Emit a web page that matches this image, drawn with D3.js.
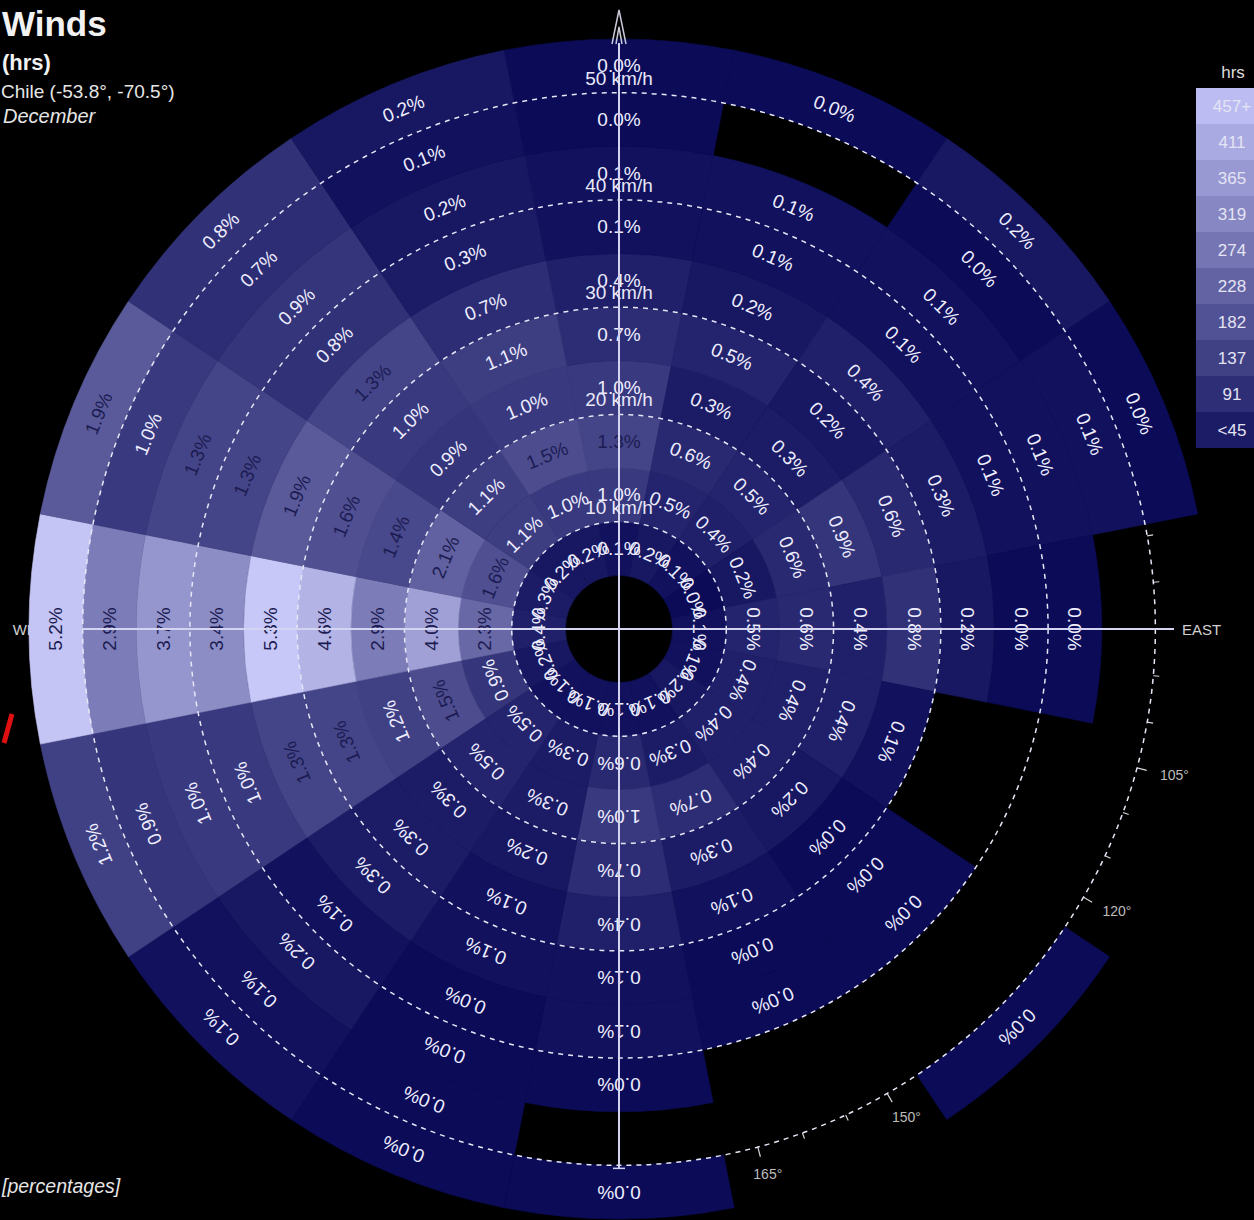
<!DOCTYPE html>
<html>
<head>
<meta charset="utf-8">
<script src="https://cdn.jsdelivr.net/npm/d3@7"></script>
<style>
  body { margin: 0; background: #000; overflow: hidden; }
  svg { display: block; }
</style>
</head>
<body>
<svg id="chart" width="1254" height="1220"></svg>
<script>
// Wind directions (16 sectors, clockwise from north)
const directions = ["N","NNE","NE","ENE","E","ESE","SE","SSE","S","SSW","SW","WSW","W","WNW","NW","NNW"];
// Lower bound of each 5 km/h speed bin (km/h)
const speedBins = [5, 10, 15, 20, 25, 30, 35, 40, 45, 50];
// Share of hours (%) per speed bin for each direction; null = no hours recorded
const pctN   = [0.1, 1.0, 1.3, 1.0, 0.7, 0.4, 0.1, 0.1, 0.0, 0.0];
const pctNNE = [0.2, 0.5, 0.6, 0.3, 0.5, 0.2, 0.1, 0.1, null, 0.0];
const pctNE  = [0.1, 0.4, 0.5, 0.3, 0.2, 0.4, 0.1, 0.1, 0.0, 0.2];
const pctENE = [0.0, 0.2, 0.6, 0.9, 0.6, 0.3, 0.1, 0.1, 0.1, 0.0];
const pctE   = [0.1, 0.5, 0.6, 0.4, 0.8, 0.2, 0.0, 0.0, null, null];
const pctESE = [0.1, 0.4, 0.4, 0.4, 0.1, null, null, null, null, null];
const pctSE  = [0.2, 0.4, 0.4, 0.2, 0.0, 0.0, 0.0, null, null, 0.0];
const pctSSE = [0.1, 0.3, 0.7, 0.3, 0.1, 0.0, 0.0, null, null, null];
const pctS   = [0.1, 0.6, 1.0, 0.7, 0.4, 0.1, 0.1, 0.0, null, 0.0];
const pctSSW = [0.1, 0.3, 0.3, 0.2, 0.1, 0.1, 0.0, 0.0, 0.0, 0.0];
const pctSW  = [0.1, 0.5, 0.5, 0.3, 0.3, 0.3, 0.1, 0.2, 0.1, 0.1];
const pctWSW = [0.2, 0.9, 1.5, 1.2, 1.3, 1.3, 1.0, 1.0, 0.9, 1.2];
const pctW   = [0.4, 2.3, 4.0, 2.9, 4.6, 5.3, 3.4, 3.7, 2.9, 5.2];
const pctWNW = [0.3, 1.6, 2.1, 1.4, 1.6, 1.9, 1.3, 1.3, 1.0, 1.9];
const pctNW  = [0.2, 1.1, 1.1, 0.9, 1.0, 1.3, 0.8, 0.9, 0.7, 0.8];
const pctNNW = [0.2, 1.0, 1.5, 1.0, 1.1, 0.7, 0.3, 0.2, 0.1, 0.2];
const series = [pctN, pctNNE, pctNE, pctENE, pctE, pctESE, pctSE, pctSSE,
                pctS, pctSSW, pctSW, pctWSW, pctW, pctWNW, pctNW, pctNNW];

// Speed rings marked with dashed circles
const speedRings = [10, 20, 30, 40, 50];
// Legend classes (hours), top to bottom
const legendLabels = ["457+", "411", "365", "319", "274", "228", "182", "137", "91", "<45"];
// Compass degree ticks
const degreeTicks = d3.range(0, 360, 5);

const W = 1254, H = 1220;
const cx = 619, cy = 629;
const svg = d3.select("#chart");
svg.append("rect").attr("width", W).attr("height", H).attr("fill", "#000");

const font = "'Liberation Sans', Arial, sans-serif";
const rScale = d3.scaleLinear().domain([0, 55]).range([0, 590]);
const shade = d3.scalePow().exponent(0.85).domain([0, 5.3]).range([0, 1]).clamp(true);
const ramp = d3.interpolateRgb("#0b0b58", "#c8c8f8");
const color = v => ramp(shade(v));
const toRad = d => d * Math.PI / 180;
const step = 360 / directions.length;

const g = svg.append("g").attr("transform", `translate(${cx},${cy})`);

// ---- compass ticks and degree labels (underneath the cells) ----
const rim = rScale(50);
g.append("g").selectAll("line").data(degreeTicks).join("line")
  .attr("x1", d => rim * Math.sin(toRad(d)))
  .attr("y1", d => -rim * Math.cos(toRad(d)))
  .attr("x2", d => (rim + (d % 15 === 0 ? 10 : 6)) * Math.sin(toRad(d)))
  .attr("y2", d => -(rim + (d % 15 === 0 ? 10 : 6)) * Math.cos(toRad(d)))
  .attr("stroke", "#d8d8d8").attr("stroke-width", 1.2);

const degLabels = degreeTicks.filter(d => d % 15 === 0 && d % 90 !== 0);
g.append("g").selectAll("text").data(degLabels).join("text")
  .attr("x", d => 557 * Math.sin(toRad(d)) + 18 * Math.sin(toRad(d)))
  .attr("y", d => -557 * Math.cos(toRad(d)) - 7 * Math.cos(toRad(d)))
  .attr("text-anchor", "middle").attr("dominant-baseline", "central")
  .attr("font-family", font).attr("font-size", 14).attr("fill", "#bdbdbd")
  .text(d => d + "\u00b0");

g.append("text").attr("x", 563).attr("y", 0)
  .attr("dominant-baseline", "central").attr("font-family", font)
  .attr("font-size", 15).attr("fill", "#d0d0d0").text("EAST");
g.append("text").attr("x", -563).attr("y", 0).attr("text-anchor", "end")
  .attr("dominant-baseline", "central").attr("font-family", font)
  .attr("font-size", 15).attr("fill", "#d0d0d0").text("WEST");

// ---- cells ----
const cells = [];
series.forEach((vals, i) => {
  vals.forEach((v, j) => {
    if (v === null) return;
    cells.push({ dir: i, bin: j, value: v });
  });
});

const arc = d3.arc()
  .innerRadius(d => rScale(speedBins[d.bin]))
  .outerRadius(d => rScale(speedBins[d.bin] + 5))
  .startAngle(d => toRad(d.dir * step - step / 2))
  .endAngle(d => toRad(d.dir * step + step / 2));

g.append("g").selectAll("path").data(cells).join("path")
  .attr("d", arc)
  .attr("fill", d => color(d.value))
  .attr("stroke", d => color(d.value)).attr("stroke-width", 0.6);

// ---- cell labels ----
g.append("g").selectAll("text").data(cells).join("text")
  .attr("transform", d => {
    const [x, y] = arc.centroid(d);
    return `translate(${x},${y}) rotate(${d.dir * step})`;
  })
  .attr("text-anchor", "middle").attr("dominant-baseline", "central")
  .attr("font-family", font).attr("font-size", 19)
  .attr("fill", d => d.value >= 1.3 ? "#1c1c52" : "#eeeeff")
  .text(d => d.value.toFixed(1) + "%");

// ---- dashed speed circles ----
g.append("g").selectAll("circle").data(speedRings).join("circle")
  .attr("r", d => rScale(d)).attr("fill", "none")
  .attr("stroke", "#e6e6f6").attr("stroke-width", 1.5)
  .attr("stroke-dasharray", "5,5");

// ---- crosshair ----
g.append("line").attr("x1", 0).attr("x2", 0).attr("y1", -586).attr("y2", rim + 3)
  .attr("stroke", "#d4d4f0").attr("stroke-width", 2);
g.append("line").attr("x1", -rim).attr("x2", 555).attr("y1", 0).attr("y2", 0)
  .attr("stroke", "#d4d4f0").attr("stroke-width", 2);
g.append("line").attr("x1", -6).attr("x2", 6).attr("y1", rim + 3).attr("y2", rim + 3)
  .attr("stroke", "#d4d4f0").attr("stroke-width", 1.5);
// north arrow
g.append("path")
  .attr("d", "M-7,-585 L0,-619 L7,-585 M-3,-585 L0,-602 L3,-585")
  .attr("fill", "none").attr("stroke", "#c8c8d8").attr("stroke-width", 1.5);

// speed labels
g.append("g").selectAll("text").data(speedRings).join("text")
  .attr("x", 0).attr("y", d => -rScale(d) - 8)
  .attr("text-anchor", "middle").attr("font-family", font)
  .attr("font-size", 19).attr("fill", "#e8e8f8")
  .text(d => d + " km/h");

// ---- titles ----
svg.append("text").attr("x", 2).attr("y", 36)
  .attr("font-family", font).attr("font-weight", "bold").attr("font-size", 35)
  .attr("fill", "#f2f2f2").text("Winds");
svg.append("text").attr("x", 2).attr("y", 70)
  .attr("font-family", font).attr("font-weight", "bold").attr("font-size", 22)
  .attr("fill", "#f2f2f2").text("(hrs)");
svg.append("text").attr("x", 1).attr("y", 98)
  .attr("font-family", font).attr("font-size", 19)
  .attr("fill", "#e6e6e6").text("Chile (-53.8\u00b0, -70.5\u00b0)");
svg.append("text").attr("x", 3).attr("y", 123)
  .attr("font-family", font).attr("font-style", "italic").attr("font-size", 20)
  .attr("fill", "#e6e6e6").text("December");
svg.append("text").attr("x", 2).attr("y", 1193)
  .attr("font-family", font).attr("font-style", "italic").attr("font-size", 19.5)
  .attr("fill", "#e6e6e6").text("[percentages]");
svg.append("path").attr("d", "M12,714 L4,743")
  .attr("stroke", "#e01010").attr("stroke-width", 5).attr("fill", "none");

// ---- legend ----
const legendColor = d3.scaleLinear().domain([0, legendLabels.length - 1])
  .range(["#bcbcf2", "#1c1c66"]);
const lg = svg.append("g");
lg.append("text").attr("x", 1233).attr("y", 78).attr("text-anchor", "middle")
  .attr("font-family", font).attr("font-size", 17).attr("fill", "#dedede").text("hrs");
const ly = d3.scaleBand().domain(legendLabels).range([88, 448]);
lg.selectAll("rect").data(legendLabels).join("rect")
  .attr("x", 1196).attr("y", d => ly(d)).attr("width", 70).attr("height", ly.bandwidth())
  .attr("fill", (d, i) => legendColor(i));
lg.selectAll("text.lbl").data(legendLabels).join("text").attr("class", "lbl")
  .attr("x", 1232).attr("y", d => ly(d) + ly.bandwidth() / 2)
  .attr("text-anchor", "middle").attr("dominant-baseline", "central")
  .attr("font-family", font).attr("font-size", 17).attr("fill", "#e4e4f4")
  .text(d => d);
</script>
</body>
</html>
